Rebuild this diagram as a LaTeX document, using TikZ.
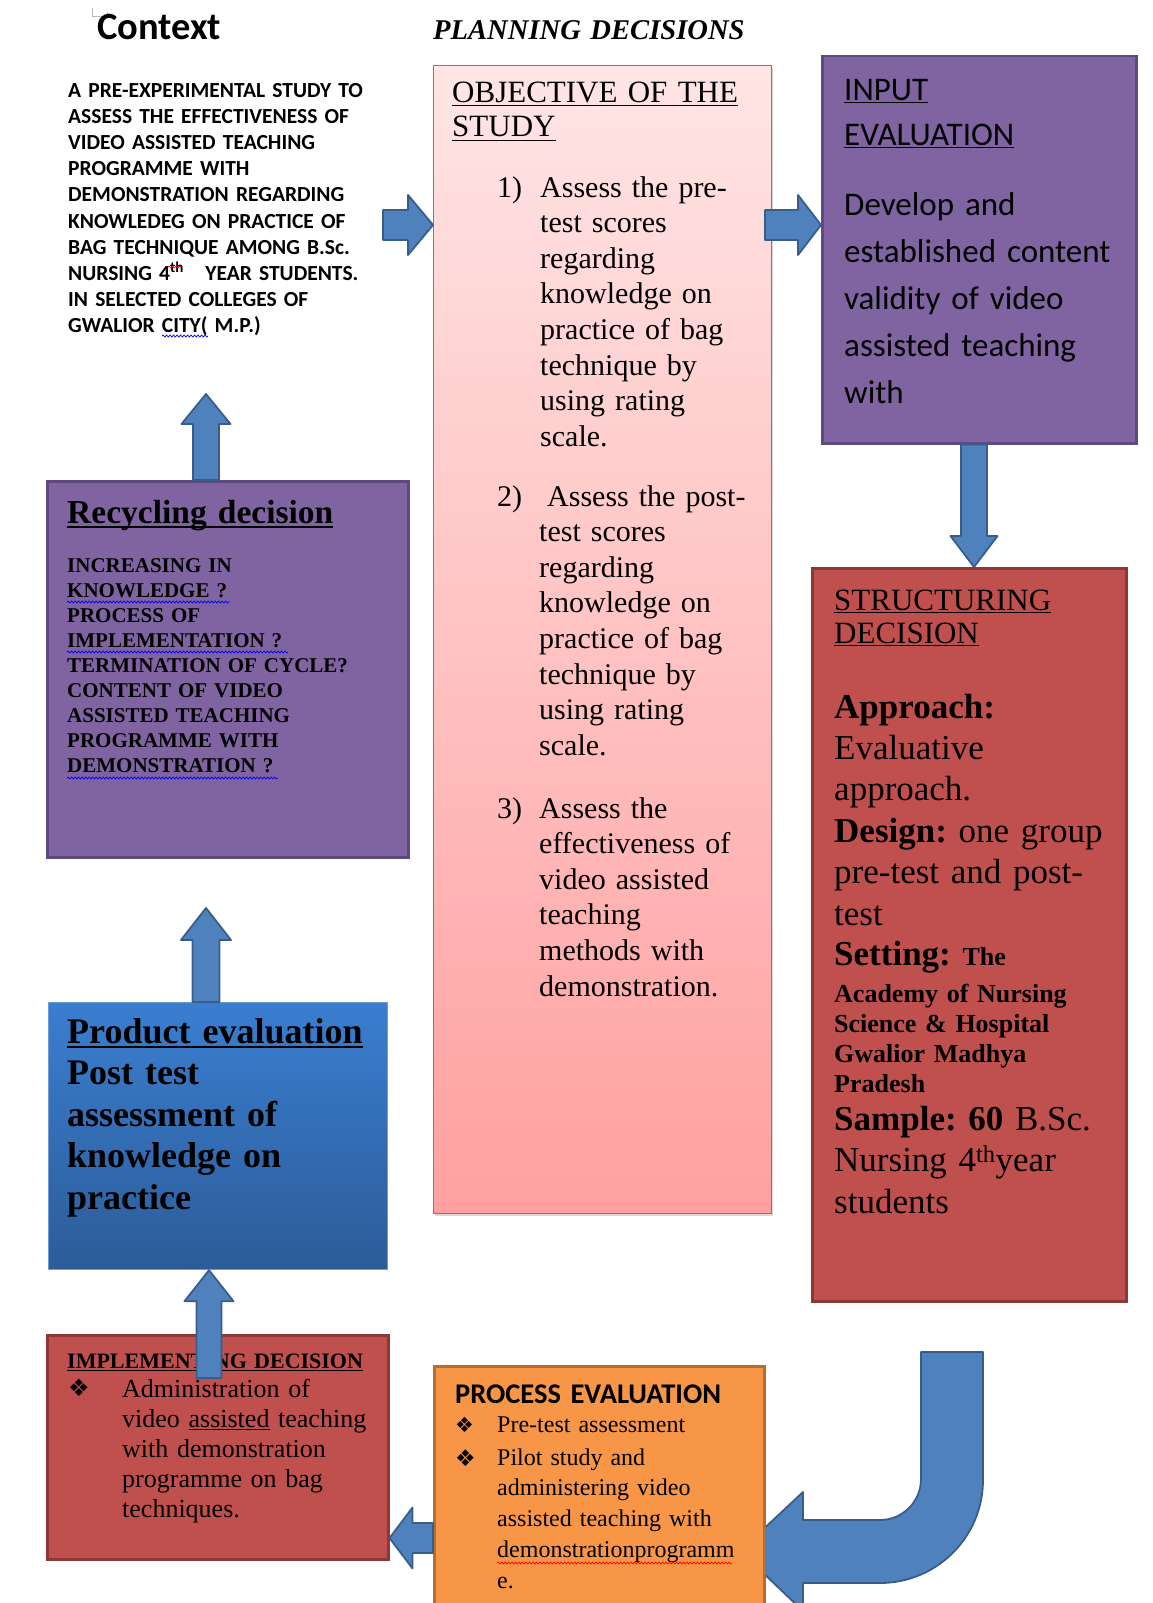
\documentclass[tikz,border=0pt]{standalone}
\usepackage{fontspec}
\setmainfont{Liberation Serif}
\newfontfamily\calibfont{Carlito}
\newfontfamily\dejavufont{DejaVu Sans}
\usetikzlibrary{calc,shadows,decorations.pathmorphing}
\frenchspacing

\definecolor{purplefill}{RGB}{128,100,162}
\definecolor{purpleedge}{RGB}{94,74,126}
\definecolor{redfill}{RGB}{192,80,77}
\definecolor{rededge}{RGB}{140,56,54}
\definecolor{orangefill}{RGB}{247,150,70}
\definecolor{orangeedge}{RGB}{182,109,49}
\definecolor{arrowfill}{RGB}{79,129,189}
\definecolor{arrowedge}{RGB}{56,93,138}
\definecolor{objtop}{RGB}{255,229,229}
\definecolor{objbottom}{RGB}{255,160,160}
\definecolor{objedge}{RGB}{205,90,88}
\definecolor{prodtop}{RGB}{58,126,208}
\definecolor{prodbottom}{RGB}{44,92,152}
\definecolor{prodedge}{RGB}{110,155,215}

\newcommand\fsz[2]{\fontsize{#1}{#2}\selectfont}
\newsavebox\ulbox
\newcommand\ulin[3]{\leavevmode\sbox\ulbox{#3}\rlap{\rule[-#1]{\wd\ulbox}{#2}}\usebox\ulbox}
\newcommand\bulletmark{{\dejavufont\symbol{"2756}}}
\newcommand\fatarrow[5]{%
  \path (#1) coordinate (fa-s) (#2) coordinate (fa-e);
  \path ($(fa-e)!#5!(fa-s)$) coordinate (fa-b);
  \draw[blockarrow] ($(fa-s)!#3!90:(fa-e)$) -- ($(fa-b)!#3!90:(fa-e)$) -- ($(fa-b)!#4!90:(fa-e)$) -- (fa-e)
    -- ($(fa-b)!#4!-90:(fa-e)$) -- ($(fa-b)!#3!-90:(fa-e)$) -- ($(fa-s)!#3!-90:(fa-e)$) -- cycle;}

\begin{document}
\begin{tikzpicture}[x=1pt,y=-1pt,
  box/.style={anchor=north west,inner sep=0pt},
  purplebox/.style={box,draw=purpleedge,fill=purplefill,line width=2.5pt},
  redbox/.style={box,draw=rededge,fill=redfill,line width=2.5pt},
  orangebox/.style={box,draw=orangeedge,fill=orangefill,line width=2.5pt},
  txt/.style={anchor=base west,inner sep=0pt,text width=#1,align=left},
  txt/.default=450pt,
  squiggle/.style={line width=0.7pt,decorate,decoration={snake,segment length=3.5pt,amplitude=1pt}},
  blockarrow/.style={draw=arrowedge,fill=arrowfill,line width=1.8pt,line join=round}]
  \useasboundingbox (0,0) rectangle (1152,1603);
  \clip (0,0) rectangle (1152,1603);

  \draw[blockarrow] (921,1352) -- (983,1352) -- (983,1480) arc[start angle=0,end angle=90,radius=103]
    -- (803,1583) -- (803,1611) -- (740,1551) -- (803,1492) -- (803,1520) -- (880,1520)
    arc[start angle=90,end angle=0,radius=41] -- cycle;

  \node[box,draw=objedge,line width=1.2pt,top color=objtop,bottom color=objbottom,
    drop shadow={shadow xshift=1.5pt,shadow yshift=-2.5pt,opacity=.3},
    minimum width=338pt,minimum height=1148pt] (obj) at (433,65) {};
  \node[purplebox,minimum width=314pt,minimum height=387pt] (inputev) at (821,55) {};
  \node[redbox,minimum width=314pt,minimum height=733pt] (struct) at (811,567) {};
  \node[purplebox,minimum width=361pt,minimum height=376pt] (recyc) at (46,480) {};
  \node[box,draw=prodedge,line width=1.2pt,top color=prodtop,bottom color=prodbottom,
    minimum width=339pt,minimum height=267pt] (prodev) at (48,1002) {};
  \node[redbox,minimum width=341pt,minimum height=224pt] (impl) at (46,1334) {};
  \node[orangebox,minimum width=330pt,minimum height=262pt] (procev) at (433,1365) {};

  \draw[gray!55,line width=0.8pt] (92,8) -- (92,16) -- (107,16) -- (107,12);
  \node[txt,font=\calibfont\bfseries\fsz{38.5}{40}] (ctxtitle) at (97,40) {Context};
  \node[txt,font=\calibfont\bfseries\fsz{21.5}{26.2}] (ctx) at (68,97)
    {A PRE-EXPERIMENTAL STUDY TO\\ASSESS THE EFFECTIVENESS OF\\VIDEO ASSISTED TEACHING\\PROGRAMME WITH\\
     DEMONSTRATION REGARDING\\KNOWLEDEG ON PRACTICE OF\\BAG TECHNIQUE AMONG B.Sc.\\
     NURSING 4\textsuperscript{th}\quad YEAR STUDENTS.\\IN SELECTED COLLEGES OF\\GWALIOR CITY( M.P.)};
  \node[txt,font=\bfseries\itshape\fsz{28.6}{30}] (plan) at (433,40) {PLANNING DECISIONS};

  \node[txt,font=\fsz{31}{35}] (objtitle) at (452,102)
    {\ulin{4pt}{1.4pt}{OBJECTIVE OF THE}\\\ulin{4pt}{1.4pt}{STUDY}};
  \node[txt,font=\fsz{30}{35.6}] (num1) at (497,197) {1)};
  \node[txt,font=\fsz{30}{35.6}] (item1) at (540,197)
    {Assess the pre-\\test scores\\regarding\\knowledge on\\practice of bag\\technique by\\using rating\\scale.};
  \node[txt,font=\fsz{30}{35.6}] (num2) at (497,506) {2)};
  \node[txt,font=\fsz{30}{35.6}] (item2) at (539,506)
    {\hspace*{8pt}Assess the post-\\test scores\\regarding\\knowledge on\\practice of bag\\technique by\\using rating\\scale.};
  \node[txt,font=\fsz{30}{35.6}] (num3) at (497,818) {3)};
  \node[txt,font=\fsz{30}{35.6}] (item3) at (539,818)
    {Assess the\\effectiveness of\\video assisted\\teaching\\methods with\\demonstration.};

  \node[txt,font=\calibfont\fsz{33}{45}] (inputtitle) at (844,100)
    {\ulin{3pt}{1.5pt}{INPUT}\\\ulin{3pt}{1.5pt}{EVALUATION}};
  \node[txt,font=\calibfont\fsz{33}{47}] (inputtext) at (844,215)
    {Develop and\\established content\\validity of video\\assisted teaching\\with};

  \node[txt,font=\fsz{31}{33}] (structtitle) at (834,610)
    {\ulin{3pt}{1.5pt}{STRUCTURING}\\\ulin{3pt}{1.5pt}{DECISION}};
  \node[txt,font=\fsz{35}{41.4}] (approach) at (834,718)
    {\textbf{Approach:}\\Evaluative\\approach.\\\textbf{Design:} one group\\pre-test and post-\\test};
  \node[txt,font=\fsz{35}{40}] (setting) at (834,965) {\textbf{Setting:} {\bfseries\fsz{26}{30}The}};
  \node[txt,font=\bfseries\fsz{26}{30}] (place) at (834,1002)
    {Academy of Nursing\\Science \& Hospital\\Gwalior Madhya\\Pradesh};
  \node[txt,font=\fsz{35}{41.5}] (sample) at (834,1130)
    {\textbf{Sample: 60} B.Sc.\\Nursing 4\textsuperscript{th}year\\students};

  \node[txt,font=\bfseries\fsz{33.5}{36}] (recyctitle) at (67,523) {\ulin{5pt}{2pt}{Recycling decision}};
  \node[txt,font=\bfseries\fsz{21}{25}] (recyctext) at (67,572)
    {INCREASING IN\\KNOWLEDGE ?\\PROCESS OF\\IMPLEMENTATION ?\\TERMINATION OF CYCLE?\\
     CONTENT OF VIDEO\\ASSISTED TEACHING\\PROGRAMME WITH\\DEMONSTRATION ?};

  \node[txt,font=\bfseries\fsz{36}{41.5}] (prodtext) at (67,1043)
    {\ulin{5pt}{2.5pt}{Product evaluation}\\Post test\\assessment of\\knowledge on\\practice};

  \node[txt,font=\bfseries\fsz{22}{25}] (impltitle) at (67,1368) {\ulin{3pt}{1.5pt}{IMPLEMENTING DECISION}};
  \node[txt,font=\fsz{24}{24}] (implmark) at (68,1396) {\bulletmark};
  \node[txt,font=\fsz{26}{30}] (impltext) at (122,1397)
    {Administration of\\video \ulin{3pt}{1.2pt}{assisted} teaching\\with demonstration\\programme on bag\\techniques.};

  \node[txt,font=\calibfont\bfseries\fsz{28.5}{30}] (proctitle) at (455,1403) {PROCESS EVALUATION};
  \node[txt,font=\fsz{21}{21}] (procmarka) at (455,1432) {\bulletmark};
  \node[txt,font=\fsz{23}{23}] (procmarkb) at (455,1466) {\bulletmark};
  \node[txt,font=\fsz{24}{31}] (proctexta) at (497,1432) {Pre-test assessment};
  \node[txt,font=\fsz{24}{30.75}] (proctextb) at (497,1465)
    {Pilot study and\\administering video\\assisted teaching with\\demonstrationprogramm\\e.};

  \draw[squiggle,blue] (162,336) -- (208,336);
  \draw[squiggle,red] (168,267) -- (182,267);
  \draw[squiggle,blue] (67,602) -- (230,602);
  \draw[squiggle,blue] (67,652) -- (288,652);
  \draw[squiggle,blue] (67,778) -- (278,778);
  \draw[squiggle,red] (497,1563) -- (732,1563);

  \coordinate (ctxfoot) at (206,394);
  \coordinate (recycfoot) at (206,908);
  \fatarrow{383,225}{obj.west |- 0,225}{15pt}{30pt}{25pt}
  \fatarrow{765,225}{inputev.west |- 0,225}{15pt}{30pt}{23pt}
  \fatarrow{inputev.south -| 974,0}{struct.north -| 974,0}{13pt}{23.5pt}{31pt}
  \fatarrow{recyc.north -| 206,0}{ctxfoot}{13pt}{24.5pt}{30pt}
  \fatarrow{prodev.north -| 206,0}{recycfoot}{13.5pt}{25pt}{32pt}
  \fatarrow{209,1378}{prodev.south -| 209,0}{12.5pt}{24.5pt}{31pt}
  \fatarrow{procev.west |- 0,1538}{impl.east |- 0,1538}{15pt}{30.5pt}{23pt}
\end{tikzpicture}
\end{document}
